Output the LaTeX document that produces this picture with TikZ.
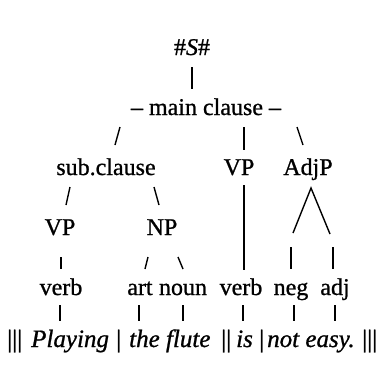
\documentclass[tikz,border=0pt]{standalone}
\usepackage{fontspec}
\setmainfont{Liberation Serif}[FakeBold=0.9]
\begin{document}
\begin{tikzpicture}[x=1pt,y=-1pt,
  lbl/.style={font=\fontsize{24}{28}\selectfont, inner sep=0pt, anchor=base},
  wrd/.style={font=\fontsize{25}{28}\selectfont, inner sep=0pt, anchor=base west},
  stroke/.style={line width=1.4pt}]
\useasboundingbox (0,0) rectangle (386,365);
% labels
\node[lbl] (S) at (192,55) {\#\textit{S}\#};
\node[lbl] (main) at (206,115) {– main clause –};
\node[lbl] (sub) at (106,175) {sub.clause};
\node[lbl] (vpa) at (239,175) {VP};
\node[lbl] (adjp) at (308,175) {AdjP};
\node[lbl] (vpb) at (60,235) {VP};
\node[lbl] (np) at (162,235) {NP};
\node[lbl] (verba) at (61,295) {verb};
\node[lbl] (art) at (140,295) {art};
\node[lbl] (noun) at (183,295) {noun};
\node[lbl] (verbb) at (241,295) {verb};
\node[lbl] (neg) at (291,295) {neg};
\node[lbl] (adj) at (335,295) {adj};
% bottom line
\node[wrd] (b1) at (7,347) {|||};
\node[wrd] (b2) at (31,347) {\textit{Playing}};
\node[wrd] (b3) at (116,347) {|};
\node[wrd] (b4) at (129,347) {\textit{the flute}};
\node[wrd] (b5) at (221,347) {||};
\node[wrd] (b6) at (236,347) {\textit{is}};
\node[wrd] (b7) at (259,347) {|};
\node[wrd] (b8) at (267,347) {\textit{not easy.}};
\node[wrd] (b9) at (362,347) {|||};
% connector end points
\coordinate (sA) at (192,67);  \coordinate (sB) at (192,89);
\coordinate (m1a) at (120,127); \coordinate (m1b) at (115,145);
\coordinate (m2a) at (244,127); \coordinate (m2b) at (244,150);
\coordinate (m3a) at (297,127); \coordinate (m3b) at (303,145);
\coordinate (c1a) at (70,187); \coordinate (c1b) at (66,205);
\coordinate (c2a) at (154,187); \coordinate (c2b) at (159,205);
\coordinate (va) at (244,185); \coordinate (vb) at (244,270);
\coordinate (aL) at (293,233); \coordinate (aT) at (311,188); \coordinate (aR) at (330,234);
\coordinate (p1a) at (61,257); \coordinate (p1b) at (61,269);
\coordinate (n1a) at (148,257); \coordinate (n1b) at (145,269);
\coordinate (n2a) at (178,257); \coordinate (n2b) at (183,269);
\coordinate (g1a) at (291,247); \coordinate (g1b) at (291,269);
\coordinate (j1a) at (333,247); \coordinate (j1b) at (333,269);
\foreach \i/\x in {1/60,2/139,3/183,4/243,5/294,6/335}{
  \coordinate (w\i a) at (\x,305); \coordinate (w\i b) at (\x,321);}
% connectors
\draw[stroke] (sA) -- (sB);
\draw[stroke] (m1a) -- (m1b);
\draw[stroke] (m2a) -- (m2b);
\draw[stroke] (m3a) -- (m3b);
\draw[stroke] (c1a) -- (c1b);
\draw[stroke] (c2a) -- (c2b);
\draw[stroke] (va) -- (vb);
\draw[stroke] (aL) -- (aT) -- (aR);
\draw[stroke] (p1a) -- (p1b);
\draw[stroke] (n1a) -- (n1b);
\draw[stroke] (n2a) -- (n2b);
\draw[stroke] (g1a) -- (g1b);
\draw[stroke] (j1a) -- (j1b);
\foreach \i in {1,...,6}{\draw[stroke] (w\i a) -- (w\i b);}
\end{tikzpicture}
\end{document}
